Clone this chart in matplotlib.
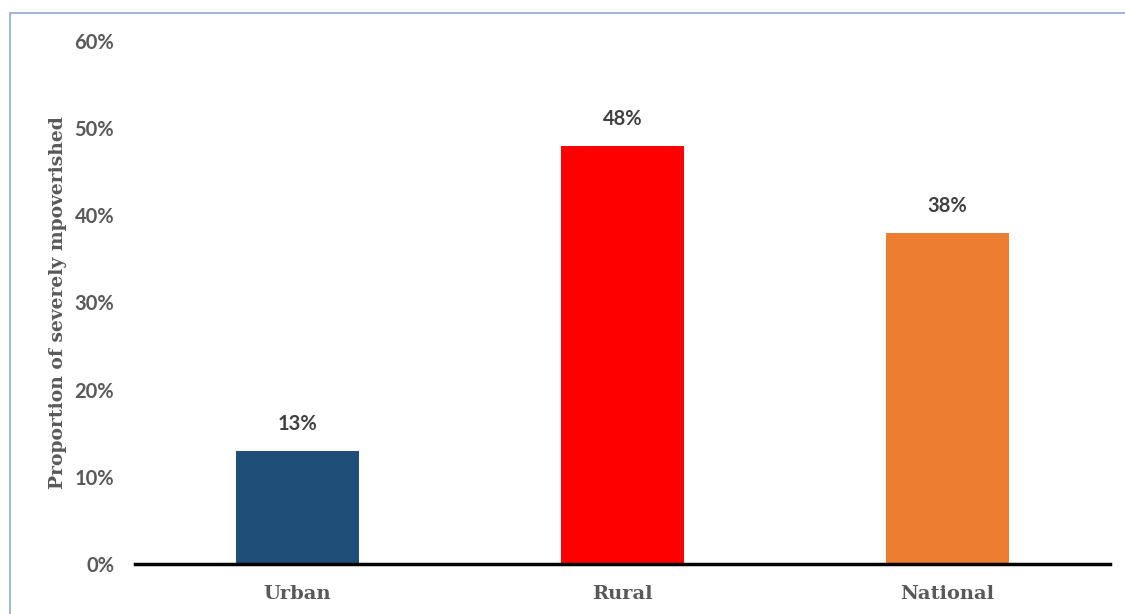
import matplotlib
matplotlib.use('Agg')
import matplotlib.pyplot as plt
from matplotlib.patches import Rectangle

areas = ['Urban', 'Rural', 'National']
shares = [0.13, 0.48, 0.38]
bar_colors = ['#1f4e79', '#ff0000', '#ed7d31']
yticks = [0, 0.1, 0.2, 0.3, 0.4, 0.5, 0.6]

fig = plt.figure(figsize=(11.25, 6.14), dpi=100)
ax = fig.add_axes([135 / 1125, 50 / 614, 975 / 1125, 523 / 614])

# light blue frame around the chart area
fig.patches.append(Rectangle((9.5 / 1125, -0.1), 1.2, (614 - 12.5) / 614 + 0.1,
                             transform=fig.transFigure, fill=False,
                             edgecolor='#8eaadb', linewidth=1.2))

x = range(len(areas))
bars = ax.bar(x, shares, width=0.38, color=bar_colors, zorder=2)

for b, v in zip(bars, shares):
    ax.text(b.get_x() + b.get_width() / 2, v + 0.019, f'{v:.0%}',
            ha='center', va='bottom', fontsize=14.5, fontweight='bold',
            color='#404040', family='Lato')

ax.set_xlim(-0.5, 2.5)
ax.set_ylim(0, 0.6)
ax.set_yticks(yticks)
ax.set_yticklabels([f'{t:.0%}' for t in yticks], fontsize=14.5, fontweight='bold',
                   color='#595959', family='Lato')
ax.set_xticks(list(x))
ax.set_xticklabels(areas, fontsize=14, fontweight='bold', color='#595959',
                   family='DejaVu Serif')
ax.tick_params(axis='both', length=0)
ax.tick_params(axis='y', pad=15)
ax.tick_params(axis='x', pad=15)

for side in ['top', 'right', 'left']:
    ax.spines[side].set_visible(False)
ax.spines['bottom'].set_linewidth(2.5)
ax.spines['bottom'].set_color('black')
ax.spines['bottom'].set_zorder(3)

ax.set_ylabel('Proportion of severely mpoverished', fontsize=13.5, fontweight='bold',
              color='#595959', family='DejaVu Serif')
ax.yaxis.set_label_coords(-0.07, 0.5)

fig.savefig('out.png', dpi=100)
